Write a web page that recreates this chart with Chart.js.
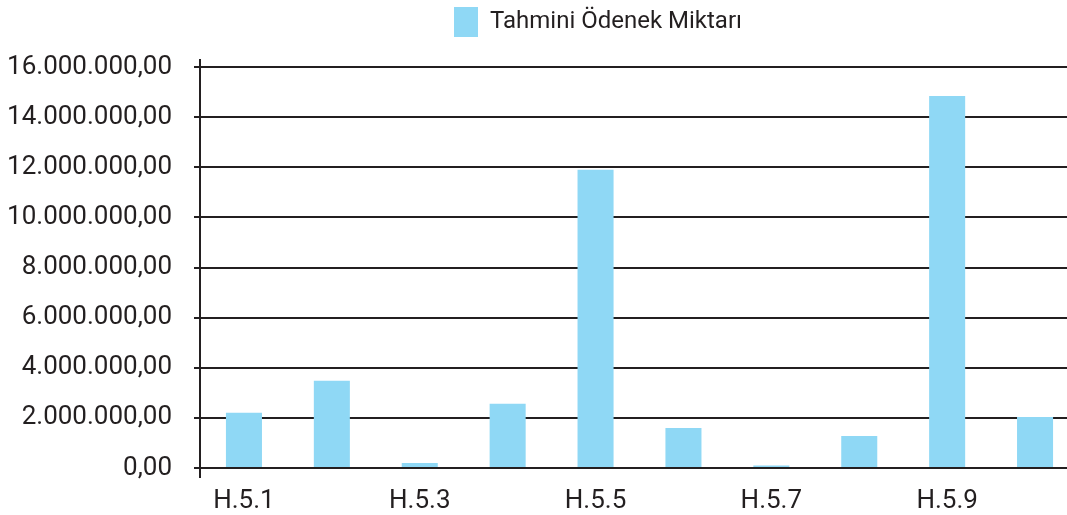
<!DOCTYPE html>
<html>
<head>
<meta charset="utf-8">
<script src="https://cdn.jsdelivr.net/npm/chart.js@4/dist/chart.umd.min.js"></script>
<style>
    html, body { margin: 0; padding: 0; background: #fff; overflow: hidden; }
    #chart { display: block; }
</style>
</head>
<body>
<canvas id="chart" width="1080" height="515"></canvas>
<script>
// Veriler (grafikten okunan tahmini değerler)
const categories = ['H.5.1', 'H.5.2', 'H.5.3', 'H.5.4', 'H.5.5', 'H.5.6', 'H.5.7', 'H.5.8', 'H.5.9', 'H.5.10'];
const odenekMiktari = [2200000, 3480000, 200000, 2560000, 11900000, 1600000, 100000, 1280000, 14840000, 2030000];
const yTicks = [0, 2000000, 4000000, 6000000, 8000000, 10000000, 12000000, 14000000, 16000000];
const seriesLabel = 'Tahmini Ödenek Miktarı';

const textColor = '#231f20';
const fontFamily = 'Roboto, "Noto Sans", sans-serif';

// 16000000 -> "16.000.000,00"
function trFormat(v) {
    const s = Math.round(v).toString().replace(/\B(?=(\d{3})+(?!\d))/g, '.');
    return s + ',00';
}

// Dikey eksen çizgisi (grafik alanının biraz dışına taşıyor)
const axisLinePlugin = {
    id: 'axisLine',
    afterDraw(chart) {
        const { ctx, chartArea } = chart;
        ctx.save();
        ctx.strokeStyle = textColor;
        ctx.lineWidth = 2;
        ctx.beginPath();
        ctx.moveTo(chartArea.left, chartArea.top - 8);
        ctx.lineTo(chartArea.left, chartArea.bottom + 10);
        ctx.stroke();
        ctx.restore();
    }
};

// Lejantı referanstaki konuma kaydır ve altına boşluk ekle
const legendShiftPlugin = {
    id: 'legendShift',
    beforeLayout(chart) {
        const legend = chart.legend;
        if (!legend || legend._patched) return;
        const origFit = legend.fit;
        legend.fit = function () {
            origFit.call(this);
            this.height = 67;
        };
        legend._patched = true;
    },
    afterLayout(chart) {
        const legend = chart.legend;
        if (!legend) return;
        legend.left = 454 - legend.options.labels.padding;
    }
};

new Chart(document.getElementById('chart'), {
    type: 'bar',
    data: {
        labels: categories,
        datasets: [{
            label: seriesLabel,
            data: odenekMiktari,
            backgroundColor: '#8fd8f5',
            borderWidth: 0,
            categoryPercentage: 1,
            barPercentage: 0.41
        }]
    },
    options: {
        responsive: false,
        animation: false,
        layout: { padding: { top: 0, right: 1, bottom: 0, left: 0 } },
        plugins: {
            tooltip: { enabled: false },
            legend: {
                position: 'top',
                align: 'start',
                labels: {
                    boxWidth: 24,
                    boxHeight: 30,
                    padding: 7,
                    color: textColor,
                    font: { family: fontFamily, size: 24 }
                }
            }
        },
        scales: {
            x: {
                grid: { display: false },
                border: { display: false },
                afterFit: scale => { scale.height = 47; },
                ticks: {
                    autoSkip: false,
                    maxRotation: 0,
                    padding: 10,
                    color: textColor,
                    font: { family: fontFamily, size: 26 },
                    callback: (v, i) => i % 2 === 0 ? categories[i] : ''
                }
            },
            y: {
                min: 0,
                max: 16000000,
                border: { display: false },
                grid: { color: textColor, lineWidth: 2, tickLength: 6 },
                afterBuildTicks: scale => { scale.ticks = yTicks.map(v => ({ value: v })); },
                afterFit: scale => { scale.width = 200; },
                ticks: {
                    padding: 22,
                    color: textColor,
                    font: { family: fontFamily, size: 26 },
                    callback: v => trFormat(v)
                }
            }
        }
    },
    plugins: [axisLinePlugin, legendShiftPlugin]
});
</script>
</body>
</html>
